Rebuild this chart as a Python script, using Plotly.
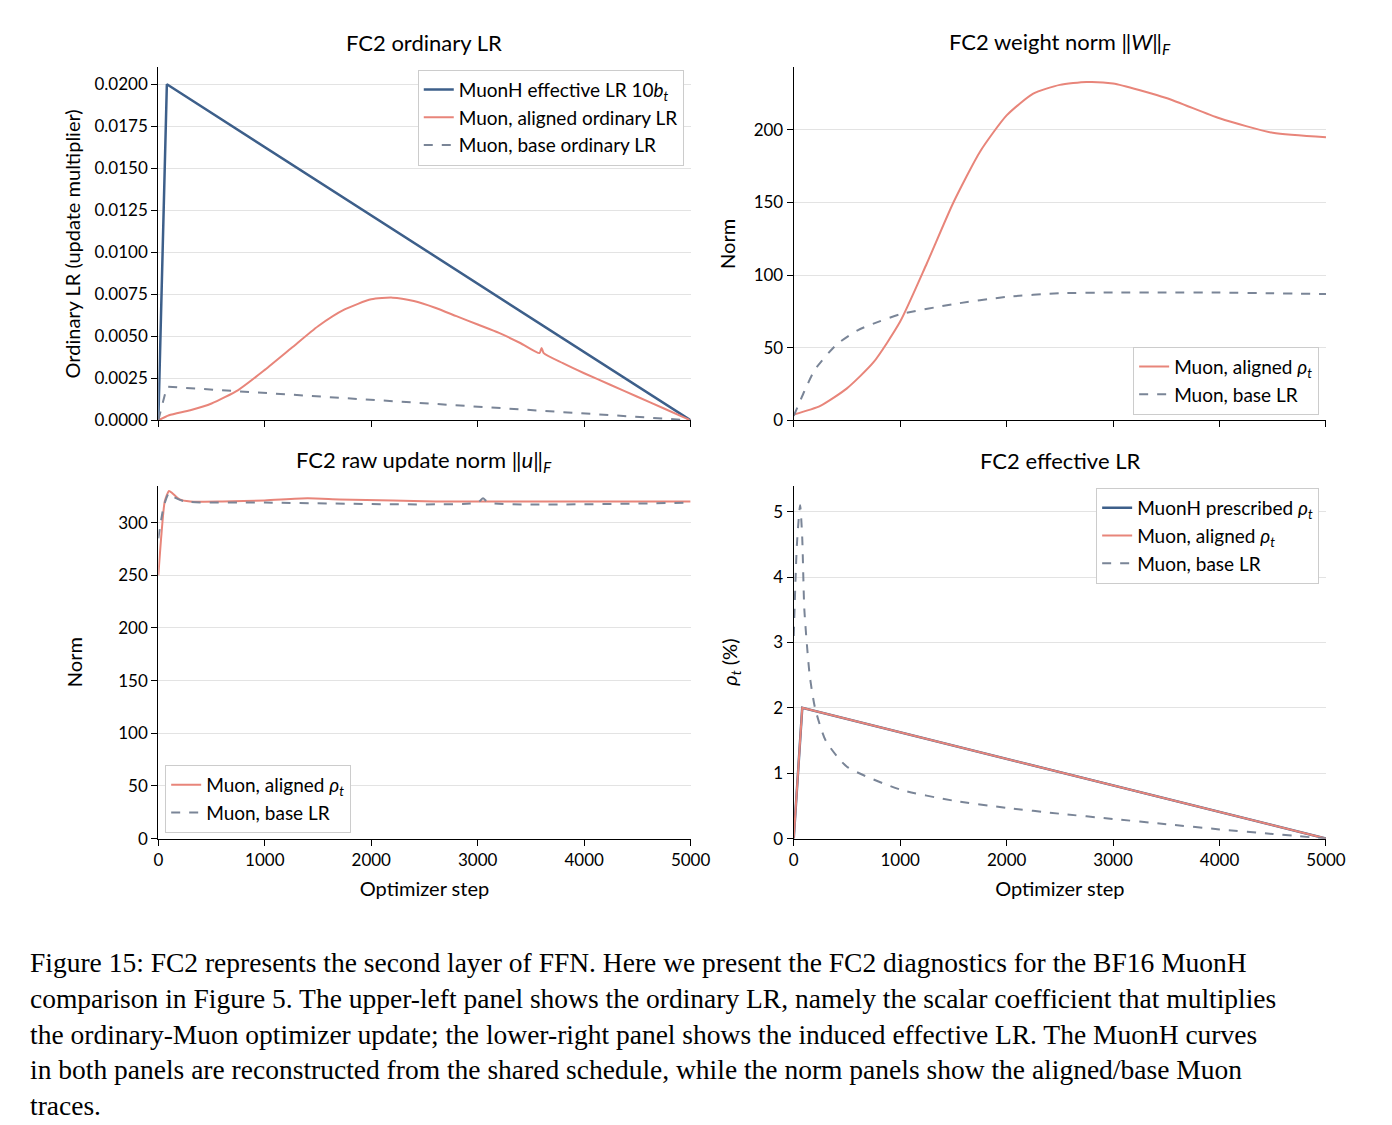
import plotly.graph_objects as go

# ---- data ----
tl_x_eff = [0, 80, 5000]
tl_y_eff = [0, 0.02, 0]
tl_x_al = [0, 100, 300, 500, 750, 1000, 1250, 1500, 1750, 2000, 2200, 2400, 2600, 2800, 3000, 3200, 3400, 3580, 3600, 3620, 3800, 4000, 4250, 4500, 4750, 5000]
tl_y_al = [0, 0.0003, 0.0006, 0.0010, 0.0018, 0.0030, 0.0043, 0.0056, 0.0066, 0.0072, 0.0073, 0.0071, 0.0067, 0.0062, 0.0057, 0.0052, 0.0046, 0.0040, 0.0043, 0.0040, 0.0034, 0.0028, 0.0021, 0.0014, 0.0007, 0.0]
tl_x_base = [0, 80, 5000]
tl_y_base = [0, 0.002, 0]

tr_x_al = [0, 250, 500, 750, 1000, 1250, 1500, 1750, 2000, 2250, 2500, 2750, 3000, 3500, 4000, 4500, 5000]
tr_y_al = [4, 10, 22, 40, 68, 108, 150, 185, 210, 225, 231, 233, 232, 222, 208, 198, 195]
tr_x_base = [0, 100, 200, 400, 600, 800, 1000, 1500, 2000, 2500, 3000, 3500, 4000, 4500, 5000]
tr_y_base = [3, 20, 35, 52, 62, 68, 73, 80, 85, 87.5, 88, 88, 88, 87.5, 87]

bl_x_al = [0, 30, 60, 100, 130, 200, 300, 600, 1000, 1400, 1700, 2200, 2600, 3000, 3600, 4000, 5000]
bl_y_al = [250, 290, 320, 330, 328, 322, 320, 320, 321, 323, 322, 321, 320, 320, 320, 320, 320]
bl_x_base = [0, 50, 100, 150, 250, 1000, 3000, 3050, 3100, 5000]
bl_y_base = [285, 315, 328, 324, 320, 319, 319, 323, 319, 319]

br_x_pre = [0, 80, 5000]
br_y_pre = [0, 2, 0]
br_x_al = [0, 20, 80, 5000]
br_y_al = [0, 0.5, 2, 0]
br_x_base = [0, 30, 60, 80, 100, 150, 200, 300, 500, 1000, 1500, 2000, 2500, 3000, 3500, 4000, 4500, 5000]
br_y_base = [3.1, 4.5, 5.1, 4.6, 3.5, 2.5, 2.0, 1.5, 1.1, 0.75, 0.58, 0.47, 0.38, 0.30, 0.22, 0.14, 0.07, 0.0]

BLUE = "#3d5f8a"
RED = "#e8857a"
GRAY = "#7a8597"
SANS = "Lato"
SERIF = "Liberation Serif"

fig = go.Figure()

def line(x, y, name, color, dash, xa, ya, leg, width=2, smooth=True):
    fig.add_trace(go.Scatter(x=x, y=y, name=name, mode="lines",
                             line=dict(color=color, dash=dash, width=width,
                                       shape="spline" if smooth else "linear", smoothing=0.6),
                             xaxis=xa, yaxis=ya, legend=leg))

line(tl_x_eff, tl_y_eff, "MuonH effective LR 10<i>b<sub>t</sub></i>", BLUE, "solid", "x", "y", "legend", 2.5, False)
line(tl_x_al, tl_y_al, "Muon, aligned ordinary LR", RED, "solid", "x", "y", "legend")
line(tl_x_base, tl_y_base, "Muon, base ordinary LR", GRAY, "dash", "x", "y", "legend", 2, False)

line(tr_x_al, tr_y_al, "Muon, aligned <i>ρ<sub>t</sub></i>", RED, "solid", "x2", "y2", "legend2")
line(tr_x_base, tr_y_base, "Muon, base LR", GRAY, "dash", "x2", "y2", "legend2")

line(bl_x_al, bl_y_al, "Muon, aligned <i>ρ<sub>t</sub></i>", RED, "solid", "x3", "y3", "legend3")
line(bl_x_base, bl_y_base, "Muon, base LR", GRAY, "dash", "x3", "y3", "legend3")

line(br_x_pre, br_y_pre, "MuonH prescribed <i>ρ<sub>t</sub></i>", BLUE, "solid", "x4", "y4", "legend4", 2.5, False)
line(br_x_al, br_y_al, "Muon, aligned <i>ρ<sub>t</sub></i>", RED, "solid", "x4", "y4", "legend4", 2, False)
line(br_x_base, br_y_base, "Muon, base LR", GRAY, "dash", "x4", "y4", "legend4")

W, H = 1392, 1125
L = (148 / W, 690 / W)
R = (795 / W, 1337 / W)
T = (1 - 416 / H, 1 - 60 / H)
B = (1 - 838 / H, 1 - 482 / H)

ax = dict(showline=True, linecolor="black", linewidth=1.2, ticks="outside", ticklen=6,
          tickcolor="black", tickfont=dict(size=17, family=SANS, color="black"), zeroline=False)
xb = dict(ax, range=[0, 5000], tickvals=[0, 1000, 2000, 3000, 4000, 5000], showgrid=False)
yb = dict(ax, showgrid=True, gridcolor="#e3e3e3")
tf = dict(size=20, family=SANS, color="black")

leg = dict(bgcolor="white", bordercolor="#cccccc", borderwidth=1,
           font=dict(size=19, family=SANS, color="black"), tracegroupgap=0)

fig.update_layout(
    width=W, height=H, plot_bgcolor="white", paper_bgcolor="white",
    margin=dict(l=0, r=0, t=0, b=0),
    xaxis=dict(xb, domain=L, anchor="y", showticklabels=False),
    yaxis=dict(yb, domain=T, anchor="x", range=[0, 0.021],
               tickvals=[i * 0.0025 for i in range(9)], tickformat=".4f",
               title=dict(text="Ordinary LR (update multiplier)", font=tf, standoff=8)),
    xaxis2=dict(xb, domain=R, anchor="y2", showticklabels=False),
    yaxis2=dict(yb, domain=T, anchor="x2", range=[0, 243], tickvals=[0, 50, 100, 150, 200],
                title=dict(text="Norm", font=tf, standoff=12)),
    xaxis3=dict(xb, domain=L, anchor="y3",
                title=dict(text="Optimizer step", font=tf, standoff=12)),
    yaxis3=dict(yb, domain=B, anchor="x3", range=[0, 335], tickvals=[0, 50, 100, 150, 200, 250, 300],
                title=dict(text="Norm", font=tf, standoff=30)),
    xaxis4=dict(xb, domain=R, anchor="y4",
                title=dict(text="Optimizer step", font=tf, standoff=12)),
    yaxis4=dict(yb, domain=B, anchor="x4", range=[0, 5.4], tickvals=[0, 1, 2, 3, 4, 5],
                title=dict(text="<i>ρ<sub>t</sub></i> (%)", font=tf, standoff=30)),
    legend=dict(leg, x=L[1] - 0.005, y=T[1] - 0.002, xanchor="right", yanchor="top"),
    legend2=dict(leg, x=R[1] - 0.005, y=T[0] + 0.005, xanchor="right", yanchor="bottom"),
    legend3=dict(leg, x=L[0] + 0.005, y=B[0] + 0.005, xanchor="left", yanchor="bottom"),
    legend4=dict(leg, x=R[1] - 0.005, y=B[1] - 0.002, xanchor="right", yanchor="top"),
)

titles = [
    ("FC2 ordinary LR", sum(L) / 2, 35),
    ("FC2 weight norm ‖<i>W</i>‖<sub><i>F</i></sub>", sum(R) / 2, 35),
    ("FC2 raw update norm ‖<i>u</i>‖<sub><i>F</i></sub>", sum(L) / 2, 457),
    ("FC2 effective LR", sum(R) / 2, 457),
]
for text, x, ypx in titles:
    fig.add_annotation(text=text, x=x, y=1 - ypx / H, xref="paper", yref="paper",
                       xanchor="center", yanchor="middle",
                       showarrow=False, font=dict(size=22, family=SANS, color="black"))

caption = ("Figure 15: FC2 represents the second layer of FFN. Here we present the FC2 diagnostics for the BF16 MuonH<br>"
           "comparison in Figure 5. The upper-left panel shows the ordinary LR, namely the scalar coefficient that multiplies<br>"
           "the ordinary-Muon optimizer update; the lower-right panel shows the induced effective LR. The MuonH curves<br>"
           "in both panels are reconstructed from the shared schedule, while the norm panels show the aligned/base Muon<br>"
           "traces.")
fig.add_annotation(text=caption, x=15 / W, y=1 - 945 / H, xref="paper", yref="paper",
                   xanchor="left", yanchor="top", align="left", showarrow=False,
                   font=dict(size=27.5, family=SERIF, color="black"))

fig.write_html("out.html")
